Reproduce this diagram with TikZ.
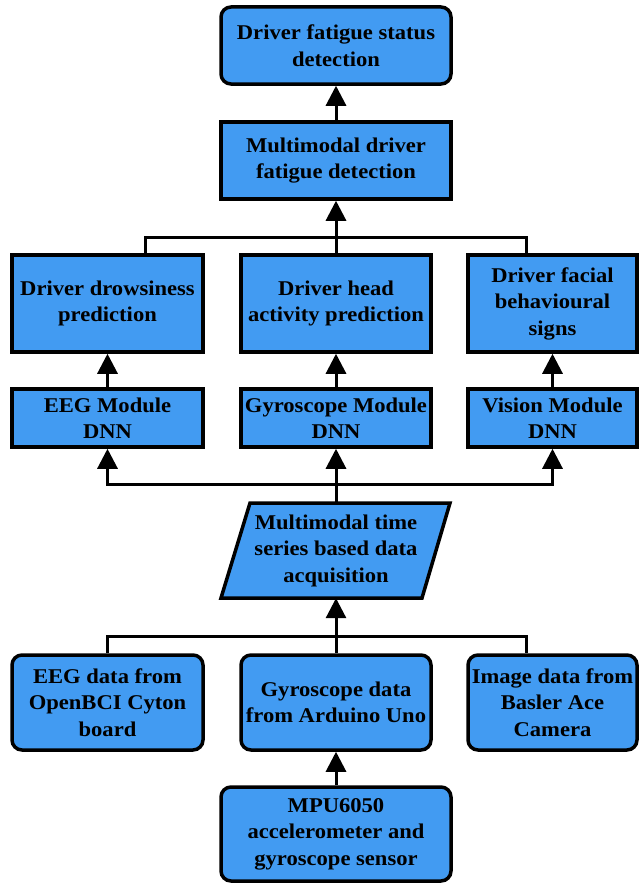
\documentclass[tikz,border=0pt]{standalone}
\usepackage{fontspec}
\newfontfamily\dfont{Liberation Serif}[FakeStretch=1.075]
\usetikzlibrary{arrows.meta}
\definecolor{boxblue}{RGB}{66,155,242}
\tikzset{
  lbl/.style={align=center, inner sep=0pt,
    font=\dfont\bfseries\fontsize{21}{26.5}\selectfont},
  blk/.style={lbl, draw=black, fill=boxblue, line width=3.5pt},
  rblk/.style={blk, rounded corners=10pt},
  link/.style={draw=black, line width=3pt},
  uparrow/.style={link, -{Triangle[width=20pt,length=20pt]}},
}
\begin{document}
\begin{tikzpicture}[x=1pt,y=-1pt]
\useasboundingbox (0,0) rectangle (638,883);

% output stages
\node[rblk, minimum width=230, minimum height=77] (status) at (336,45.5)
  {Driver fatigue status\\detection};
\node[blk, minimum width=230, minimum height=77] (fusion) at (336,160.5)
  {Multimodal driver\\fatigue detection};

% per-modality predictions
\node[blk, minimum width=191, minimum height=97] (drowsy) at (107.5,303.5)
  {Driver drowsiness\\prediction};
\node[blk, minimum width=190, minimum height=97] (headact) at (336,303.5)
  {Driver head\\activity prediction};
\node[blk, minimum width=169, minimum height=97] (facial) at (552.5,303.5)
  {Driver facial\\behavioural\\signs};

% DNN modules
\node[blk, minimum width=191, minimum height=58] (eegdnn) at (107.5,418)
  {EEG Module\\DNN};
\node[blk, minimum width=190, minimum height=58] (gyrodnn) at (336,418)
  {Gyroscope Module\\DNN};
\node[blk, minimum width=169, minimum height=58] (visdnn) at (552.5,418)
  {Vision Module\\DNN};

% data acquisition (parallelogram)
\coordinate (pa) at (250,503);
\coordinate (pb) at (450,503);
\coordinate (pc) at (422,598);
\coordinate (pd) at (221,598);
\draw[fill=boxblue, line width=3.5pt] (pa) -- (pb) -- (pc) -- (pd) -- cycle;
\node[lbl, minimum width=200, minimum height=95] (acq) at (336,550.5)
  {Multimodal time\\series based data\\acquisition};

% data sources
\node[rblk, minimum width=191, minimum height=95] (eegsrc) at (107.5,702.5)
  {EEG data from\\OpenBCI Cyton\\board};
\node[rblk, minimum width=190, minimum height=95] (gyrosrc) at (336,702.5)
  {Gyroscope data\\from Arduino Uno};
\node[rblk, minimum width=169, minimum height=95] (imgsrc) at (552.5,702.5)
  {Image data from\\Basler Ace\\Camera};
\node[rblk, minimum width=230, minimum height=94] (mpu) at (336,834)
  {MPU6050\\accelerometer and\\gyroscope sensor};

% bus coordinates
\coordinate (topL) at (145,237);
\coordinate (topR) at (526,237);
\coordinate (midC) at (336,484);
\coordinate (lowL) at (107.5,636);
\coordinate (lowR) at (526,636);

% connectors
\draw[uparrow] (fusion.north) -- (status.south);
\draw[link] (topL |- drowsy.north) -- (topL) -- (topR) -- (topR |- facial.north);
\draw[uparrow] (headact.north) -- (fusion.south);

\draw[uparrow] (eegdnn.north) -- (drowsy.south);
\draw[uparrow] (gyrodnn.north) -- (headact.south);
\draw[uparrow] (visdnn.north) -- (facial.south);

\draw[uparrow] (acq.north) -- (gyrodnn.south);
\draw[uparrow] (midC) -| (eegdnn.south);
\draw[uparrow] (midC) -| (visdnn.south);

\draw[link] (eegsrc.north) -- (lowL) -- (lowR) -- (lowR |- imgsrc.north);
\draw[uparrow] (gyrosrc.north) -- (acq.south);
\draw[uparrow] (mpu.north) -- (gyrosrc.south);
\end{tikzpicture}
\end{document}
